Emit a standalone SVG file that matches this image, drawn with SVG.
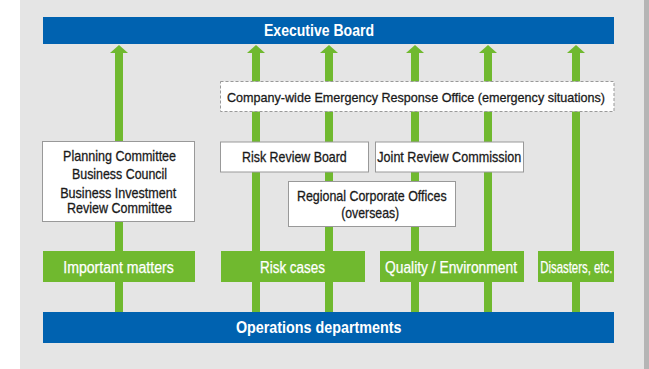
<svg xmlns="http://www.w3.org/2000/svg" width="649" height="369" viewBox="0 0 649 369">
<style>
.t{font-family:"Liberation Sans",Arial,sans-serif;text-anchor:middle}
.w{fill:#fff}
.k{fill:#1a1a1a;font-size:14.5px;stroke:#1a1a1a;stroke-width:0.3}
.b{font-weight:bold;font-size:16.5px}
.g{font-size:16px;stroke:#fff;stroke-width:0.25}
.blue{fill:#0062b0}
.grn{fill:#70b92f}
.box{fill:#fff;stroke:#999;stroke-width:1}
.dash{fill:#fff;stroke:#999;stroke-width:1;stroke-dasharray:3 2}
.sh{stroke:#70b92f;stroke-width:8;fill:none}
</style>
<defs>
<marker id="ah" viewBox="0 0 8 18" refX="0" refY="9" markerWidth="8" markerHeight="18" markerUnits="userSpaceOnUse" orient="auto">
<path d="M0,0 L8,9 L0,18 Z" fill="#70b92f"/>
</marker>
</defs>
<rect x="0" y="0" width="649" height="369" fill="#fff"/>
<rect x="20" y="0" width="624" height="369" fill="#e5e5e5"/>
<rect x="644" y="0" width="5" height="369" fill="#b5b5b5"/>
<g id="connectors">
<line class="sh" x1="119" y1="312" x2="119" y2="53" marker-end="url(#ah)"/>
<line class="sh" x1="256" y1="312" x2="256" y2="53" marker-end="url(#ah)"/>
<line class="sh" x1="329" y1="312" x2="329" y2="53" marker-end="url(#ah)"/>
<line class="sh" x1="415" y1="312" x2="415" y2="53" marker-end="url(#ah)"/>
<line class="sh" x1="488" y1="312" x2="488" y2="53" marker-end="url(#ah)"/>
<line class="sh" x1="576" y1="312" x2="576" y2="53" marker-end="url(#ah)"/>
</g>
<g id="executive-board">
<rect class="blue" x="43" y="17" width="571" height="27"/>
<text class="t w b" x="319" y="36" textLength="110" lengthAdjust="spacingAndGlyphs">Executive Board</text>
</g>
<g id="emergency-office">
<rect class="dash" x="220.5" y="81.5" width="393.5" height="30"/>
<text class="t k" style="font-size:13.5px" x="416" y="101.5" textLength="378" lengthAdjust="spacingAndGlyphs">Company-wide Emergency Response Office (emergency situations)</text>
</g>
<g id="planning">
<rect class="box" x="42.5" y="141.5" width="152" height="80"/>
<text class="t k" x="119.6" y="161" textLength="113" lengthAdjust="spacingAndGlyphs">Planning Committee</text>
<text class="t k" x="119.5" y="179" textLength="95" lengthAdjust="spacingAndGlyphs">Business Council</text>
<text class="t k" x="118.2" y="197.7" textLength="116" lengthAdjust="spacingAndGlyphs">Business Investment</text>
<text class="t k" x="119.5" y="212.7" textLength="105" lengthAdjust="spacingAndGlyphs">Review Committee</text>
</g>
<g id="risk-review-board">
<rect class="box" x="220.5" y="142" width="148" height="30"/>
<text class="t k" x="294.4" y="161.7" textLength="104.7" lengthAdjust="spacingAndGlyphs">Risk Review Board</text>
</g>
<g id="joint-review">
<rect class="box" x="375.5" y="142" width="148" height="30"/>
<text class="t k" x="449.3" y="162" textLength="144" lengthAdjust="spacingAndGlyphs">Joint Review Commission</text>
</g>
<g id="regional">
<rect class="box" x="288.5" y="181.5" width="167" height="45"/>
<text class="t k" x="371.8" y="201" textLength="149.7" lengthAdjust="spacingAndGlyphs">Regional Corporate Offices</text>
<text class="t k" x="370.2" y="217.5" textLength="58" lengthAdjust="spacingAndGlyphs">(overseas)</text>
</g>
<g id="important-matters">
<rect class="grn" x="43" y="251" width="152" height="31"/>
<text class="t w g" x="118.5" y="272.7" textLength="110.5" lengthAdjust="spacingAndGlyphs">Important matters</text>
</g>
<g id="risk-cases">
<rect class="grn" x="221" y="251" width="144" height="31"/>
<text class="t w g" x="292.5" y="272.7" textLength="65" lengthAdjust="spacingAndGlyphs">Risk cases</text>
</g>
<g id="quality">
<rect class="grn" x="380" y="251" width="144" height="31"/>
<text class="t w g" x="451" y="272.7" textLength="132" lengthAdjust="spacingAndGlyphs">Quality / Environment</text>
</g>
<g id="disasters">
<rect class="grn" x="538" y="251" width="76" height="31"/>
<text class="t w g" x="576.3" y="272.7" textLength="72" lengthAdjust="spacingAndGlyphs">Disasters, etc.</text>
</g>
<g id="operations">
<rect class="blue" x="43" y="312" width="571" height="31"/>
<text class="t w b" x="318.7" y="333.3" textLength="165.5" lengthAdjust="spacingAndGlyphs">Operations departments</text>
</g>
</svg>
